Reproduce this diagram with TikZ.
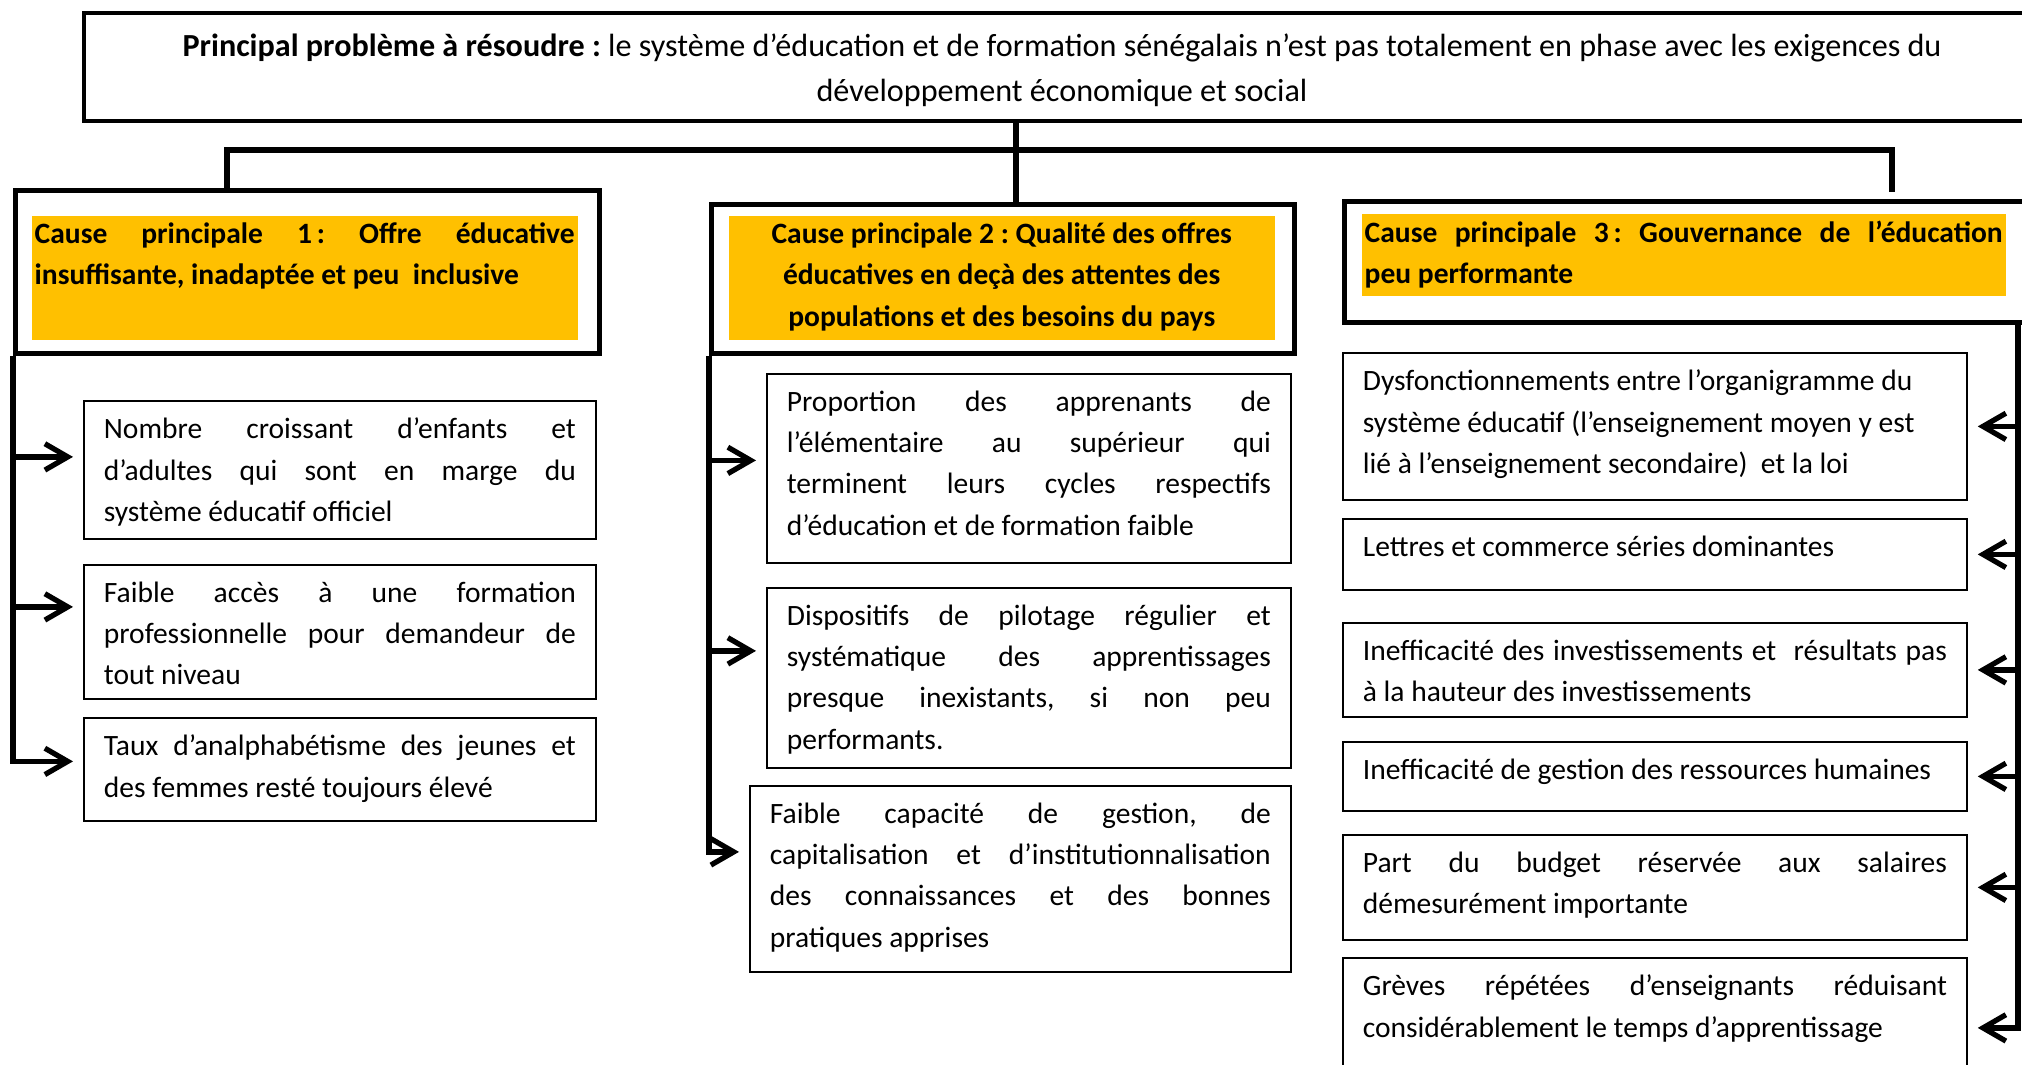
\documentclass[tikz,border=0pt]{standalone}
\usepackage{fontspec}
\setmainfont{Carlito}
\usetikzlibrary{arrows.meta}
\definecolor{gold}{HTML}{FFC000}
\frenchspacing
\newcommand{\bodysize}{\fontsize{8.4}{11.75}\selectfont}
\newcommand{\boxtext}[3]{\parbox[t][#2][t]{#1}{#3}}
\newcommand{\fullline}[1]{\makebox[\linewidth][s]{#1}\\}

\begin{document}
\begin{tikzpicture}[font=\bodysize,
  frame/.style={draw, line width=1.4pt, anchor=north west, inner sep=0pt},
  head/.style={fill=gold, anchor=north west, inner xsep=0.3mm, inner ysep=0.7mm, font=\bodysize\bfseries},
  item/.style={draw, line width=0.5pt, anchor=north west, inner xsep=2mm, inner ysep=1.7mm},
  link/.style={line width=1.5pt},
  arr/.style={link, -{Straight Barb[length=6.5pt,width=7.5pt]}, shorten >=1mm}]
  \useasboundingbox (0,0) rectangle (20.22,-10.64);
  \clip (0,0) rectangle (20.22,-10.64);

  % probleme
  \node[draw, line width=1.4pt, minimum width=19.56cm, minimum height=1.08cm, align=center, font=\fontsize{9.15}{12.8}\selectfont] (title) at (10.62,-0.67) {\rule{0pt}{3.0mm}\textbf{Principal problème à résoudre :} le système d’éducation et de formation sénégalais n’est pas totalement en phase avec les exigences du\\ développement économique et social};

  % causes principales
  \node[frame, minimum width=5.84cm, minimum height=1.63cm] (cause1) at (0.13,-1.88) {};
  \node[head] (head1) at (0.31,-2.15) {\boxtext{5.40cm}{1.10cm}{\fullline{Cause principale 1\,: Offre éducative}insuffisante, inadaptée et peu\ \ inclusive}};
  \node[frame, minimum width=5.83cm, minimum height=1.49cm] (cause2) at (7.09,-2.02) {};
  \node[head] (head2) at (7.28,-2.15) {\boxtext{5.40cm}{1.10cm}{\centering Cause principale 2 : Qualité des offres\\ éducatives en deçà des attentes des\\ populations et des besoins du pays}};
  \node[frame, minimum width=7.00cm, minimum height=1.21cm] (cause3) at (13.42,-1.99) {};
  \node[head] (head3) at (13.61,-2.13) {\boxtext{6.38cm}{0.68cm}{\fullline{Cause principale 3\,: Gouvernance de l’éducation}peu performante}};

  % colonne 1
  \node[item] (l1) at (0.83,-4.00) {\boxtext{4.72cm}{1.04cm}{\fullline{Nombre croissant d’enfants et}\fullline{d’adultes qui sont en marge du}système éducatif officiel}};
  \node[item] (l2) at (0.83,-5.64) {\boxtext{4.72cm}{1.00cm}{\fullline{Faible accès à une formation}\fullline{professionnelle pour demandeur de}tout niveau}};
  \node[item] (l3) at (0.83,-7.17) {\boxtext{4.72cm}{0.69cm}{\fullline{Taux d’analphabétisme des jeunes et}des femmes resté toujours élevé}};

  % colonne 2
  \node[item] (m1) at (7.66,-3.73) {\boxtext{4.84cm}{1.55cm}{\fullline{Proportion des apprenants de}\fullline{l’élémentaire au supérieur qui}\fullline{terminent leurs cycles respectifs}d’éducation et de formation faible}};
  \node[item] (m2) at (7.66,-5.87) {\boxtext{4.84cm}{1.46cm}{\fullline{Dispositifs de pilotage régulier et}\fullline{systématique des apprentissages}\fullline{presque inexistants, si non peu}performants.}};
  \node[item] (m3) at (7.49,-7.85) {\boxtext{5.01cm}{1.52cm}{\fullline{Faible capacité de gestion, de}\fullline{capitalisation et d’institutionnalisation}\fullline{des connaissances et des bonnes}pratiques apprises}};

  % colonne 3
  \node[item] (r1) at (13.42,-3.52) {\boxtext{5.84cm}{1.13cm}{Dysfonctionnements entre l’organigramme du\\ système éducatif (l’enseignement moyen y est\\ lié à l’enseignement secondaire)\ \ et la loi}};
  \node[item] (r2) at (13.42,-5.18) {\boxtext{5.84cm}{0.37cm}{Lettres et commerce séries dominantes}};
  \node[item] (r3) at (13.42,-6.22) {\boxtext{5.84cm}{0.60cm}{\fullline{Inefficacité des investissements et\ \ résultats pas}à la hauteur des investissements}};
  \node[item] (r4) at (13.42,-7.41) {\boxtext{5.84cm}{0.35cm}{Inefficacité de gestion des ressources humaines}};
  \node[item] (r5) at (13.42,-8.34) {\boxtext{5.84cm}{0.71cm}{\fullline{Part du budget réservée aux salaires}démesurément importante}};
  \node[item] (r6) at (13.42,-9.57) {\boxtext{5.84cm}{1.06cm}{\fullline{Grèves répétées d’enseignants réduisant}considérablement le temps d’apprentissage}};

  % liaisons
  \coordinate (hub) at (10.16,-1.50);
  \coordinate (bar1) at (2.27,-1.50);
  \coordinate (bar3) at (18.92,-1.50);
  \coordinate (drop3) at (18.92,-1.92);
  \coordinate (rspine) at (20.18,-3.20);
  \draw[link] (title.south -| hub) -- (hub |- cause2.north);
  \draw[link] (bar1 |- cause1.north) -- (bar1) -- (bar3) -- (drop3);

  \path ([yshift=1.3mm]l1.west) coordinate (l1in)
        ([yshift=2.5mm]l2.west) coordinate (l2in)
        ([yshift=0.8mm]l3.west) coordinate (l3in);
  \draw[arr] (cause1.south west) -- (cause1.south west |- l3in) -- (l3in);
  \foreach \t in {l1in,l2in} \draw[arr] (cause1.south west |- \t) -- (\t);

  \path ([yshift=0.8mm]m1.west) coordinate (m1in)
        ([yshift=2.7mm]m2.west) coordinate (m2in)
        ([yshift=2.7mm]m3.west) coordinate (m3in);
  \draw[arr] (cause2.south west) -- (cause2.south west |- m3in) -- (m3in);
  \foreach \t in {m1in,m2in} \draw[arr] (cause2.south west |- \t) -- (\t);

  \draw[arr] (rspine) -- (rspine |- r6.east) -- (r6.east);
  \foreach \t in {r1,r2,r3,r4,r5} \draw[arr] (rspine |- \t.east) -- (\t.east);
\end{tikzpicture}
\end{document}
